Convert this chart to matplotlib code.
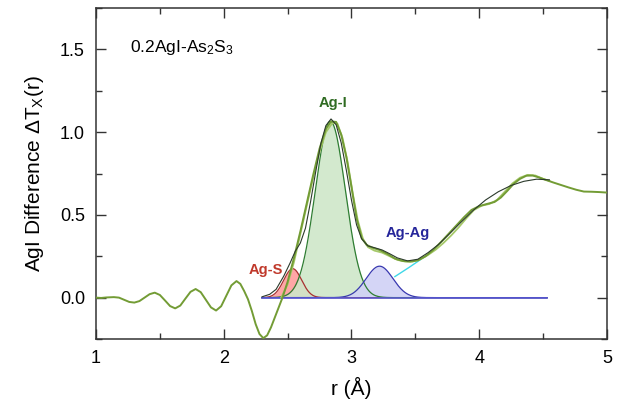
#!/usr/bin/env python3
"""
AgI difference function for 0.2AgI-As2S3 with Gaussian fit components.
"""

import numpy as np
import matplotlib
matplotlib.use('Agg')
import matplotlib.pyplot as plt
from matplotlib.ticker import MultipleLocator, FormatStrFormatter

r_exp = [1.00, 1.04, 1.08, 1.14, 1.18, 1.22, 1.26, 1.30, 1.34, 1.38,
         1.42, 1.46, 1.50, 1.54, 1.58, 1.62, 1.66, 1.70, 1.74, 1.78,
         1.82, 1.86, 1.90, 1.94, 1.98, 2.02, 2.06, 2.10, 2.13, 2.16,
         2.19, 2.22, 2.25, 2.28, 2.31, 2.34, 2.37, 2.40, 2.43, 2.46,
         2.50, 2.55, 2.60, 2.65, 2.70, 2.75, 2.80, 2.84, 2.88, 2.92,
         2.96, 3.00, 3.04, 3.08, 3.12, 3.17, 3.22, 3.28, 3.34, 3.40,
         3.46, 3.52, 3.58, 3.64, 3.70, 3.76, 3.82, 3.88, 3.94, 4.00,
         4.06, 4.12, 4.17, 4.22, 4.27, 4.32, 4.37, 4.42, 4.47, 4.52,
         4.58, 4.64, 4.70, 4.76, 4.82, 4.88, 4.94, 5.00]
dT_exp = [0.000, -0.002, 0.001, 0.003, 0.000, -0.013, -0.026, -0.030, -0.021, 0.000,
          0.021, 0.030, 0.016, -0.017, -0.051, -0.065, -0.048, -0.006, 0.035, 0.052,
          0.033, -0.013, -0.059, -0.078, -0.052, 0.011, 0.074, 0.100, 0.083, 0.040,
          -0.010, -0.080, -0.160, -0.220, -0.245, -0.228, -0.180, -0.120, -0.060, 0.000,
          0.095, 0.240, 0.400, 0.570, 0.740, 0.900, 1.020, 1.065, 1.062, 0.985,
          0.850, 0.670, 0.480, 0.360, 0.318, 0.300, 0.288, 0.265, 0.236, 0.222,
          0.218, 0.225, 0.250, 0.288, 0.335, 0.385, 0.435, 0.485, 0.530, 0.553,
          0.566, 0.578, 0.605, 0.645, 0.688, 0.718, 0.737, 0.738, 0.726, 0.712,
          0.696, 0.681, 0.666, 0.652, 0.641, 0.640, 0.638, 0.635]

# second (smoothed) data trace, differs only between 2.45 and 4.55
r_exp2 = [2.45, 2.50, 2.55, 2.60, 2.65, 2.70, 2.75, 2.80, 2.85, 2.89,
          2.93, 2.97, 3.01, 3.05, 3.09, 3.13, 3.18, 3.24, 3.30, 3.36,
          3.42, 3.48, 3.54, 3.60, 3.66, 3.72, 3.78, 3.84, 3.90, 3.96,
          4.02, 4.08, 4.14, 4.20, 4.26, 4.32, 4.38, 4.44, 4.50, 4.55]
dT_exp2 = [0.000, 0.080, 0.215, 0.385, 0.555, 0.725, 0.880, 1.000, 1.055, 1.052,
           0.965, 0.820, 0.630, 0.465, 0.355, 0.305, 0.284, 0.272, 0.250, 0.228,
           0.218, 0.218, 0.232, 0.258, 0.290, 0.330, 0.375, 0.425, 0.480, 0.530,
           0.556, 0.566, 0.590, 0.640, 0.690, 0.725, 0.742, 0.738, 0.718, 0.706]

# total fit (thin dark line)
r_fit = [2.30, 2.36, 2.41, 2.47, 2.52, 2.56, 2.60, 2.64, 2.68, 2.72,
         2.76, 2.80, 2.84, 2.88, 2.92, 2.96, 3.00, 3.04, 3.08, 3.13,
         3.18, 3.24, 3.30, 3.36, 3.44, 3.52, 3.60, 3.68, 3.76, 3.85,
         3.95, 4.05, 4.15, 4.25, 4.35, 4.45, 4.55]
dT_fit = [0.005, 0.020, 0.050, 0.130, 0.210, 0.280, 0.330, 0.420, 0.580, 0.760,
          0.930, 1.040, 1.080, 1.045, 0.935, 0.770, 0.590, 0.440, 0.355, 0.312,
          0.302, 0.288, 0.265, 0.240, 0.222, 0.232, 0.272, 0.320, 0.380, 0.450,
          0.525, 0.590, 0.640, 0.678, 0.703, 0.716, 0.712]

# residual background tail (cyan)
r_bg = [3.34, 3.45, 3.56]
dT_bg = [0.127, 0.182, 0.240]

# Gaussian components: name, centre (A), height, sigma (A)
peak_names = ['Ag-S', 'Ag-I', 'Ag-Ag']
peak_centres = [2.54, 2.835, 3.22]
peak_heights = [0.175, 1.066, 0.19]
peak_sigmas = [0.070, 0.118, 0.105]
fit_range = (2.30, 4.53)

fill_colors = ['#ff9c9c', '#cfe7c9', '#d0d1f6']
edge_colors = ['#a83030', '#2e7d32', '#3838b0']
label_colors = ['#c0392b', '#2f6b22', '#25259a']
label_pos = [(2.33, 0.165), (2.855, 1.175), (3.44, 0.39)]

plt.rcParams['font.family'] = ['Liberation Sans', 'DejaVu Sans']
plt.rcParams['mathtext.fontset'] = 'custom'
plt.rcParams['mathtext.rm'] = 'Liberation Sans'
plt.rcParams['mathtext.it'] = 'Liberation Sans:italic'

fig = plt.figure(figsize=(6.17, 4.05), dpi=100)
ax = fig.add_axes([0.1556, 0.163, 0.828, 0.817])

# Gaussian components
rr = np.linspace(fit_range[0], fit_range[1], 500)
for i in range(len(peak_names)):
    g = peak_heights[i] * np.exp(-(rr - peak_centres[i]) ** 2 / (2 * peak_sigmas[i] ** 2))
    ax.fill_between(rr, 0, g, color=fill_colors[i], alpha=0.9, lw=0, zorder=1)
    ax.plot(rr, g, color=edge_colors[i], lw=0.9, zorder=2)
    ax.text(label_pos[i][0], label_pos[i][1], peak_names[i], color=label_colors[i],
            fontsize=10.5, fontweight='bold', ha='center', va='center')

ax.plot(fit_range, [0, 0], color='#5a5ad2', lw=1.2, zorder=2)
ax.plot(r_bg, dT_bg, color='#3fd8e8', lw=1.0, zorder=2)

# data and fit
ax.plot(r_exp2, dT_exp2, color='#a6c96a', lw=1.3, zorder=3)
ax.plot(r_exp, dT_exp, color='#739c35', lw=1.4, zorder=4)
ax.plot(r_fit, dT_fit, color='#2b3a2b', lw=0.8, zorder=5)

ax.text(1.27, 1.51, r'0.2AgI-As$_2$S$_3$', fontsize=12.5, ha='left', va='center')

ax.set_xlim(1, 5)
ax.set_ylim(-0.25, 1.75)
ax.xaxis.set_major_locator(MultipleLocator(1))
ax.xaxis.set_minor_locator(MultipleLocator(0.5))
ax.yaxis.set_major_locator(MultipleLocator(0.5))
ax.yaxis.set_minor_locator(MultipleLocator(0.25))
ax.yaxis.set_major_formatter(FormatStrFormatter('%.1f'))
ax.tick_params(which='both', direction='in', top=True, right=True,
               labelsize=13, color='#333333', width=1.0, pad=8)
ax.tick_params(which='major', length=7)
ax.tick_params(which='minor', length=4)
for sp in ax.spines.values():
    sp.set_color('#333333')
    sp.set_linewidth(1.1)

ax.set_xlabel('r (Å)', fontsize=15, labelpad=7)
ax.set_ylabel(r'AgI Difference $\Delta$T$_\mathrm{X}$(r)', fontsize=15, labelpad=10)

fig.savefig('out.png', dpi=100)
